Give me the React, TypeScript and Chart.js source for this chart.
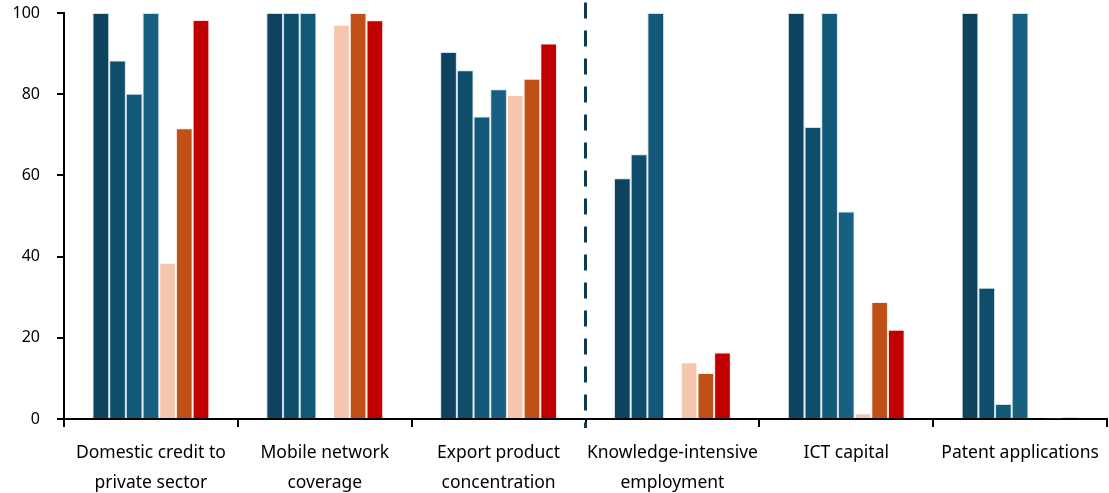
import React, { useEffect, useRef } from "react";
import { Chart, registerables } from "chart.js";

Chart.register(...registerables);

const categories: string[][] = [
  ["Domestic credit to", "private sector"],
  ["Mobile network", "coverage"],
  ["Export product", "concentration"],
  ["Knowledge-intensive", "employment"],
  ["ICT capital"],
  ["Patent applications"],
];

const series1 = [100, 100, 90.4, 59.3, 100, 100];
const series2 = [88.3, 100, 85.9, 65.2, 71.9, 32.3];
const series3 = [80.1, 100, 74.5, 100, 100, 3.7];
const series4 = [100, null, 81.2, null, 51.1, 100];
const series5 = [38.5, 97.1, 79.8, 14.0, 1.4, null];
const series6 = [71.6, 100, 83.8, 11.3, 28.8, 0.15];
const series7 = [98.3, 98.2, 92.5, 16.4, 22.0, 0.35];

const yTicks = [0, 20, 40, 60, 80, 100];

const colors = ["#0D435E", "#0F4E6B", "#125878", "#176082", "#F4C6AD", "#C05016", "#C00000"];
const borders = [
  "rgba(150,185,205,0.45)",
  "rgba(150,185,205,0.45)",
  "rgba(150,185,205,0.45)",
  "rgba(150,185,205,0.45)",
  "rgba(255,255,255,0.45)",
  "rgba(250,215,200,0.45)",
  "rgba(250,190,190,0.45)",
];

const FONT = "'Noto Sans', sans-serif";

const dividerPlugin = {
  id: "divider",
  afterDraw(chart: any) {
    const x = chart.scales.x;
    const px = (x.getPixelForValue(2) + x.getPixelForValue(3)) / 2;
    const ctx = chart.ctx;
    ctx.save();
    ctx.strokeStyle = "#0E3A52";
    ctx.lineWidth = 3;
    ctx.setLineDash([16, 12]);
    ctx.beginPath();
    ctx.moveTo(px, 2.5);
    ctx.lineTo(px, chart.chartArea.bottom + 9);
    ctx.stroke();
    ctx.restore();
  },
};

export default function App() {
  const ref = useRef<HTMLCanvasElement>(null);
  useEffect(() => {
    document.body.style.margin = "0";
    const all = [series1, series2, series3, series4, series5, series6, series7];
    const chart = new Chart(ref.current!, {
      type: "bar",
      data: {
        labels: categories,
        datasets: all.map((d, i) => ({
          label: "s" + (i + 1),
          data: d,
          backgroundColor: colors[i],
          borderColor: borders[i],
          borderWidth: 1,
          categoryPercentage: 0.672,
          barPercentage: 1,
        })),
      },
      options: {
        animation: false,
        responsive: false,
        maintainAspectRatio: false,
        layout: { padding: { top: 13, right: 2, left: 0, bottom: 0 } },
        plugins: { legend: { display: false }, tooltip: { enabled: false } },
        scales: {
          x: {
            grid: {
              offset: true,
              drawOnChartArea: false,
              drawTicks: true,
              tickLength: 8,
              color: "#000",
              lineWidth: 2,
            },
            border: { display: true, color: "#000", width: 2 },
            ticks: {
              color: "#000",
              font: { family: FONT, size: 17.5, lineHeight: 1.72 },
              padding: 11,
              maxRotation: 0,
              autoSkip: false,
            },
            afterFit(scale: any) {
              scale.height = 74;
              scale.paddingLeft = 0;
              scale.paddingRight = 0;
            },
          },
          y: {
            min: 0,
            max: 100,
            afterBuildTicks(scale: any) {
              scale.ticks = yTicks.map((v) => ({ value: v }));
            },
            grid: {
              drawOnChartArea: false,
              drawTicks: true,
              tickLength: 7,
              color: "#000",
              lineWidth: 2,
            },
            border: { display: true, color: "#000", width: 2 },
            ticks: {
              color: "#000",
              font: { family: FONT, size: 16 },
              padding: 17,
            },
            afterFit(scale: any) {
              scale.width = 64;
              scale.paddingTop = 0;
              scale.paddingBottom = 0;
            },
          },
        },
      },
      plugins: [dividerPlugin],
    });
    return () => chart.destroy();
  }, []);
  return (
    <div style={{ position: "absolute", left: 0, top: 0, width: 1109, height: 493 }}>
      <canvas ref={ref} width={1109} height={493} style={{ width: 1109, height: 493 }} />
    </div>
  );
}
